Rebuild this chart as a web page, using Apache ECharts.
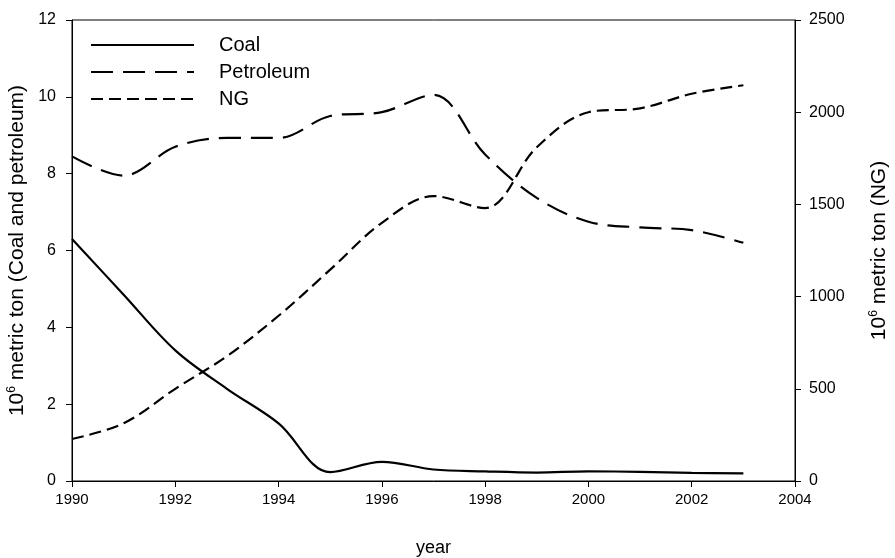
<!DOCTYPE html>
<html>
<head>
<meta charset="utf-8">
<script src="https://cdn.jsdelivr.net/npm/echarts@6/dist/echarts.min.js"></script>
<style>
  html, body { margin: 0; padding: 0; background: #fff; }
  #chart { width: 895px; height: 558px; }
</style>
</head>
<body>
<div id="chart"></div>
<script>
// data
var years = [1990, 1991, 1992, 1993, 1994, 1995, 1996, 1997, 1998, 1999, 2000, 2001, 2002, 2003];
var coal = [6.3, 4.85, 3.4, 2.4, 1.5, 0.23, 0.5, 0.3, 0.25, 0.22, 0.25, 0.24, 0.21, 0.2];
var petroleum = [8.45, 7.95, 8.7, 8.93, 8.93, 9.5, 9.6, 10.05, 8.5, 7.37, 6.75, 6.6, 6.53, 6.2];
var ng = [228, 313, 500, 677, 896, 1146, 1400, 1545, 1480, 1810, 2000, 2021, 2100, 2146];

var xTicks = [1990, 2004, 2];
var leftTicks = [0, 12, 2];
var rightTicks = [0, 2500, 500];

function pairs(vals) {
  return years.map(function (y, i) { return [y, vals[i]]; });
}

var chartDom = document.getElementById("chart");
var myChart = echarts.init(chartDom);
var font = "Liberation Sans, Arial, sans-serif";
var plain = function (v) { return String(v); };
var option;

option = {
  animation: false,
  textStyle: { fontFamily: font, color: "#000" },
  grid: {
    left: 72,
    right: 100,
    top: 20,
    bottom: 77,
    show: true,
    borderColor: "#000",
    borderWidth: 1,
    containLabel: false,
    outerBoundsMode: "none",
  },
  legend: {
    orient: "vertical",
    left: 90,
    top: 35,
    padding: 0,
    itemWidth: 103,
    itemHeight: 20,
    itemGap: 7,
    itemStyle: { opacity: 0 },
    textStyle: { fontSize: 20, color: "#000", padding: [0, 0, 0, 20] },
    data: ["Coal", "Petroleum", "NG"],
  },
  xAxis: {
    type: "value",
    min: xTicks[0],
    max: xTicks[1],
    interval: xTicks[2],
    name: "year",
    nameLocation: "middle",
    nameGap: 58,
    nameTextStyle: { fontSize: 18, color: "#000" },
    axisLine: { lineStyle: { color: "#000" } },
    axisTick: { lineStyle: { color: "#000" }, length: 6 },
    axisLabel: {
      fontSize: 15,
      fontFamily: "Liberation Sans Narrow, Arial Narrow, sans-serif",
      color: "#000",
      margin: 11,
      formatter: plain,
    },
    splitLine: { show: false },
  },
  yAxis: [
    {
      type: "value",
      min: leftTicks[0],
      max: leftTicks[1],
      interval: leftTicks[2],
      name: "10{sup|6} metric ton (Coal and petroleum)",
      nameLocation: "middle",
      nameGap: 39,
      nameRotate: 90,
      nameTextStyle: {
        fontSize: 21,
        color: "#000",
        rich: { sup: { fontSize: 12, padding: [0, 0, 10, 0], color: "#000" } },
      },
      axisLine: { show: true, lineStyle: { color: "#000" } },
      axisTick: { show: true, lineStyle: { color: "#000" }, length: 6 },
      axisLabel: { fontSize: 16, color: "#000", margin: 16, formatter: plain },
      splitLine: { show: false },
    },
    {
      type: "value",
      position: "right",
      min: rightTicks[0],
      max: rightTicks[1],
      interval: rightTicks[2],
      name: "10{sup|6} metric ton (NG)",
      nameLocation: "middle",
      nameGap: 73,
      nameRotate: 90,
      nameTextStyle: {
        fontSize: 21,
        color: "#000",
        rich: { sup: { fontSize: 12, padding: [0, 0, 10, 0], color: "#000" } },
      },
      axisLine: { show: true, lineStyle: { color: "#000" } },
      axisTick: { show: true, lineStyle: { color: "#000" }, length: 6 },
      axisLabel: { fontSize: 16, color: "#000", margin: 14, formatter: plain },
      splitLine: { show: false },
    },
  ],
  series: [
    {
      name: "Coal",
      type: "line",
      yAxisIndex: 0,
      data: pairs(coal),
      smooth: 0.35,
      symbol: "none",
      lineStyle: { color: "#000", width: 2.2, type: "solid" },
      itemStyle: { color: "#000" },
    },
    {
      name: "Petroleum",
      type: "line",
      yAxisIndex: 0,
      data: pairs(petroleum),
      smooth: 0.35,
      symbol: "none",
      lineStyle: { color: "#000", width: 2.2, type: [22, 10] },
      itemStyle: { color: "#000" },
    },
    {
      name: "NG",
      type: "line",
      yAxisIndex: 1,
      data: pairs(ng),
      smooth: 0.35,
      symbol: "none",
      lineStyle: { color: "#000", width: 2.2, type: [12, 6] },
      itemStyle: { color: "#000" },
    },
  ],
};

option && myChart.setOption(option);
</script>
</body>
</html>
